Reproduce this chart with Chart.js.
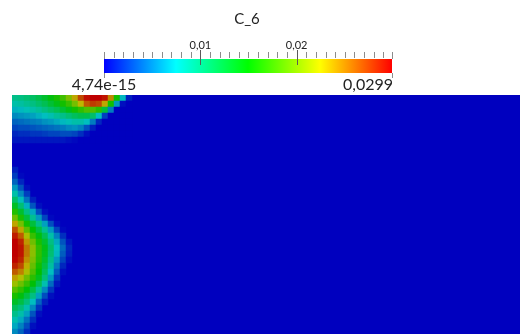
<!DOCTYPE html>
<html>
<head>
<meta charset="utf-8">
<script src="https://cdn.jsdelivr.net/npm/chart.js@4"></script>
<style>
  html, body { margin: 0; padding: 0; background: #ffffff; }
  #fieldChart { display: block; }
</style>
</head>
<body>
<canvas id="fieldChart" width="521" height="334"></canvas>
<script>
// C_6 field values, in units of 1e-3, sampled on 6px cells of the plot
// top blob: rows 0..7, columns 0..19
var topRowStart = 0;
var topGrid = [
  [9.6, 9.9, 10.5, 11.1, 12.0, 13.2, 14.4, 15.9, 17.4, 19.8, 23.4, 27.0, 29.4, 29.9, 29.9, 29.1, 24.6, 15.6, 7.2, 1.2],
  [8.4, 8.7, 9.3, 9.9, 10.8, 11.7, 12.9, 14.1, 15.6, 17.1, 19.5, 22.8, 26.4, 27.6, 27.0, 23.4, 15.6, 6.0, 0.6, 0],
  [6.9, 7.2, 7.8, 8.4, 9.0, 9.9, 10.8, 11.7, 12.9, 14.1, 15.6, 16.8, 18.0, 18.0, 16.5, 12.6, 4.8, 0, 0, 0],
  [5.4, 5.7, 6.0, 6.3, 6.9, 7.5, 8.1, 9.0, 9.6, 10.5, 11.4, 12.0, 12.0, 10.8, 7.5, 2.4, 0, 0, 0, 0],
  [3.9, 4.2, 4.5, 4.8, 5.1, 5.7, 6.0, 6.6, 7.2, 7.8, 8.4, 8.4, 7.5, 4.8, 1.5, 0, 0, 0, 0, 0],
  [2.7, 3.0, 3.0, 3.3, 3.6, 3.9, 4.2, 4.5, 4.8, 5.4, 5.7, 5.1, 3.3, 1.2, 0, 0, 0, 0, 0, 0],
  [1.5, 1.8, 1.8, 2.1, 2.1, 2.4, 2.7, 2.7, 3.0, 3.0, 2.7, 1.8, 0.6, 0, 0, 0, 0, 0, 0, 0],
  [0.9, 0.9, 0.9, 0.9, 0.9, 0.9, 0.9, 0.9, 0.9, 0.6, 0.3, 0, 0, 0, 0, 0, 0, 0, 0, 0]
];
// lower blob: rows 12..39, columns 0..10
var lowRowStart = 12;
var lowGrid = [
  [1.2],
  [2.4, 0.3],
  [3.9, 1.5],
  [6.0, 3.3, 0.6],
  [8.4, 5.4, 2.4],
  [10.8, 7.8, 4.5, 1.2],
  [13.5, 10.5, 6.9, 3.3, 0.6],
  [16.2, 13.2, 9.9, 6.6, 3.0, 0.6],
  [19.2, 15.9, 12.6, 9.3, 6.0, 2.7, 0.3],
  [23.4, 19.5, 15.6, 12.6, 9.6, 6.3, 3.0, 0.6],
  [26.7, 23.4, 18.6, 15.0, 12.3, 9.3, 6.0, 2.7, 0.3],
  [28.8, 26.4, 21.6, 17.1, 14.4, 11.7, 8.4, 5.1, 1.8],
  [29.9, 28.5, 24.0, 19.2, 15.9, 13.2, 9.9, 6.6, 3.3, 0.9],
  [29.9, 29.1, 25.2, 20.4, 16.8, 14.1, 10.8, 7.5, 4.2, 1.5],
  [29.9, 29.1, 25.2, 20.4, 16.8, 13.8, 10.5, 7.2, 3.6, 1.2],
  [29.7, 28.5, 24.3, 19.8, 16.5, 13.2, 9.6, 6.0, 2.7, 0.6],
  [28.5, 27.0, 23.1, 18.9, 15.6, 12.3, 8.7, 4.8, 1.5],
  [26.4, 24.9, 21.6, 18.0, 15.0, 11.4, 7.5, 3.6, 0.6],
  [23.7, 21.9, 19.2, 16.5, 13.8, 10.2, 6.0, 2.1],
  [21.0, 19.2, 17.1, 14.7, 11.7, 8.1, 4.2, 0.9],
  [18.3, 16.8, 14.7, 12.3, 9.0, 5.4, 2.1],
  [15.9, 14.4, 12.3, 9.9, 6.3, 3.0, 0.6],
  [13.5, 12.3, 10.2, 7.5, 3.9, 1.2],
  [11.4, 10.2, 8.1, 5.4, 2.1],
  [9.6, 8.4, 6.3, 3.3, 0.6],
  [8.1, 6.6, 4.5, 1.8],
  [6.6, 5.1, 3.0, 0.6],
  [5.4, 3.9, 1.8]
];

// colour bar
var rangeMin = 4.74e-15;
var rangeMax = 0.0299;
var majorTicks = [0.01, 0.02];
var majorLabels = ['0,01', '0,02'];
var minorStep = 0.001;
var minLabel = '4,74e-15';
var maxLabel = '0,0299';
var barTitle = 'C_6';

// layout
var cellSize = 6;
var fieldW = 508, fieldH = 239;
var bar = { x0: 104, x1: 392, y0: 59, y1: 73 };

// Blue to Red Rainbow (hsv), field is drawn darker (shading)
function hsvColor(t, bright) {
  t = Math.max(0, Math.min(1, t));
  var h = 240 * (1 - t) / 60;
  var i = Math.floor(h), f = h - i;
  var v = 255 * bright;
  var r, g, b;
  if (i >= 4) { r = 0; g = 0; b = v; }
  else if (i === 3) { r = 0; g = v * (1 - f); b = v; }
  else if (i === 2) { r = 0; g = v; b = v * f; }
  else if (i === 1) { r = v * (1 - f); g = v; b = 0; }
  else { r = v; g = v * f; b = 0; }
  return 'rgb(' + Math.round(r) + ',' + Math.round(g) + ',' + Math.round(b) + ')';
}
function fieldColor(milli) {
  return hsvColor(milli / 1000 / rangeMax, 0.75);
}

// build cell points from the grids
var cells = [];
function addGrid(grid, rowStart) {
  for (var r = 0; r < grid.length; r++) {
    for (var c = 0; c < grid[r].length; c++) {
      cells.push({ x: (c + 0.5) * cellSize, y: (rowStart + r + 0.5) * cellSize, v: grid[r][c] });
    }
  }
}
addGrid(topGrid, topRowStart);
addGrid(lowGrid, lowRowStart);

var fieldBackground = {
  id: 'fieldBackground',
  beforeDatasetsDraw: function(chart) {
    var a = chart.chartArea, c = chart.ctx;
    c.save();
    c.fillStyle = fieldColor(0);
    c.fillRect(a.left, a.top, a.right - a.left, a.bottom - a.top);
    c.restore();
  }
};

var colorBar = {
  id: 'colorBar',
  afterDraw: function(chart) {
    var c = chart.ctx;
    function px(v) { return bar.x0 + (v - rangeMin) / (rangeMax - rangeMin) * (bar.x1 - bar.x0); }
    c.save();
    var grad = c.createLinearGradient(bar.x0, 0, bar.x1, 0);
    for (var k = 0; k <= 4; k++) grad.addColorStop(k / 4, hsvColor(k / 4, 1));
    c.fillStyle = grad;
    c.fillRect(bar.x0, bar.y0, bar.x1 - bar.x0, bar.y1 - bar.y0);

    c.strokeStyle = '#8c8c8c';
    c.lineWidth = 1;
    c.beginPath();
    for (var v = minorStep; v < rangeMax; v += minorStep) {
      var x = Math.round(px(v)) + 0.5;
      c.moveTo(x, bar.y0 - 7); c.lineTo(x, bar.y0 - 1);
    }
    // ends
    [bar.x0, bar.x1].forEach(function(xe) {
      var x = Math.round(xe) + 0.5;
      c.moveTo(x, bar.y0 - 7); c.lineTo(x, bar.y0);
      c.moveTo(x, bar.y1); c.lineTo(x, bar.y1 + 5);
    });
    c.stroke();
    c.strokeStyle = '#5a5a5a';
    c.beginPath();
    majorTicks.forEach(function(v) {
      var x = Math.round(px(v)) + 0.5;
      c.moveTo(x, bar.y0 - 9); c.lineTo(x, bar.y0 + 6);
    });
    c.stroke();

    c.fillStyle = '#222222';
    c.textBaseline = 'alphabetic';
    c.font = '11px Lato';
    c.textAlign = 'center';
    majorTicks.forEach(function(v, i) {
      c.fillText(majorLabels[i], px(v), 49);
    });
    c.font = '15px Lato';
    c.fillText(barTitle, 247, 24);
    c.font = '16px Lato';
    c.fillText(minLabel, bar.x0, 90);
    c.textAlign = 'right';
    c.fillText(maxLabel, bar.x1 + 1, 90);
    c.restore();
  }
};

var ctx = document.getElementById('fieldChart').getContext('2d');
var fieldChart = new Chart(ctx, {
  type: 'scatter',
  data: {
    datasets: [{
      data: cells,
      pointStyle: 'rect',
      borderWidth: 0,
      clip: 0,
      pointRadius: function(c) {
        var s = c.chart.scales.x;
        return Math.abs(s.getPixelForValue(cellSize) - s.getPixelForValue(0)) / Math.SQRT2 + 0.35;
      },
      pointHoverRadius: 4.6,
      backgroundColor: function(c) { return c.raw ? fieldColor(c.raw.v) : fieldColor(0); }
    }]
  },
  options: {
    responsive: false,
    animation: false,
    events: [],
    layout: { padding: { left: 12, top: 95, right: 1, bottom: 0 } },
    scales: {
      x: { display: false, min: 0, max: fieldW },
      y: { display: false, min: 0, max: fieldH, reverse: true }
    },
    plugins: {
      legend: { display: false },
      tooltip: { enabled: false }
    }
  },
  plugins: [fieldBackground, colorBar]
});
</script>
</body>
</html>
